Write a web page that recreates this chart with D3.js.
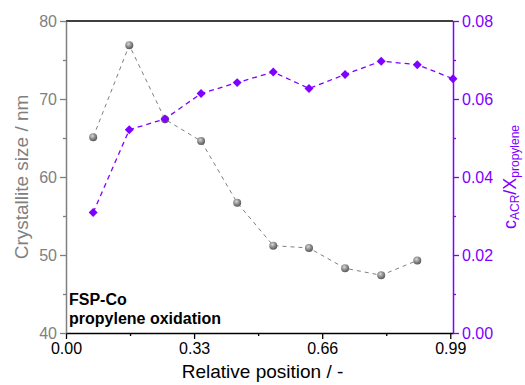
<!DOCTYPE html>
<html lang="en">
  <head>
    <meta charset="UTF-8" />
    <title>FSP-Co propylene oxidation</title>
    <script src="https://d3js.org/d3.v7.min.js"></script>
    <style>
      body { margin: 0; background: #fff; }
      svg { font-family: 'Liberation Sans', Arial, sans-serif; }
    </style>
  </head>

  <body>
    <div id="graph"></div>
    <script>
      // data
      const sizePos = [0.07, 0.163, 0.255, 0.348, 0.441, 0.534, 0.626, 0.719, 0.812, 0.905]
      const sizeVal = [65.1, 76.9, 67.4, 64.6, 56.7, 51.2, 50.9, 48.3, 47.4, 49.3]
      const ratioPos = [0.07, 0.163, 0.255, 0.348, 0.441, 0.534, 0.626, 0.719, 0.812, 0.905, 0.997]
      const ratioVal = [0.0309, 0.0521, 0.0549, 0.0614, 0.0642, 0.0669, 0.0627, 0.0663, 0.0697, 0.0688, 0.0652]
      const xTicks = [0, 0.33, 0.66, 0.99]
      const yTicks = [40, 50, 60, 70, 80]
      const y2Ticks = [0, 0.02, 0.04, 0.06, 0.08]

      const gray = '#808080'
      const purple = '#8000ff'
      const W = 525, H = 385
      const m = { left: 66, right: 72, top: 21, bottom: 52 }
      const iw = W - m.left - m.right
      const ih = H - m.top - m.bottom

      const svg = d3.select('#graph').append('svg').attr('width', W).attr('height', H)
      const g = svg.append('g').attr('transform', `translate(${m.left},${m.top})`)

      const x = d3.scaleLinear().domain([0, 0.997]).range([0, iw])
      const y = d3.scaleLinear().domain([40, 80]).range([ih, 0])
      const y2 = d3.scaleLinear().domain([0, 0.08]).range([ih, 0])

      // sphere gradient for gray markers
      const defs = svg.append('defs')
      const grad = defs.append('radialGradient').attr('id', 'ball').attr('cx', '40%').attr('cy', '35%').attr('r', '65%')
      grad.append('stop').attr('offset', '0%').attr('stop-color', '#d8d8d8')
      grad.append('stop').attr('offset', '55%').attr('stop-color', '#8a8a8a')
      grad.append('stop').attr('offset', '100%').attr('stop-color', '#5a5a5a')

      // frame: top border
      g.append('line').attr('x1', 0).attr('x2', iw).attr('y1', 0).attr('y2', 0).attr('stroke', '#000').attr('stroke-width', 1.3)

      // series lines
      const sizeData = sizePos.map((p, i) => [p, sizeVal[i]])
      const ratioData = ratioPos.map((p, i) => [p, ratioVal[i]])

      g.append('path')
        .datum(sizeData)
        .attr('fill', 'none')
        .attr('stroke', gray)
        .attr('stroke-width', 1)
        .attr('stroke-dasharray', '4,4')
        .attr('d', d3.line().x((d) => x(d[0])).y((d) => y(d[1])))

      g.append('path')
        .datum(ratioData)
        .attr('fill', 'none')
        .attr('stroke', purple)
        .attr('stroke-width', 1.3)
        .attr('stroke-dasharray', '5,4')
        .attr('d', d3.line().x((d) => x(d[0])).y((d) => y2(d[1])))

      g.selectAll('circle.size')
        .data(sizeData)
        .join('circle')
        .attr('class', 'size')
        .attr('cx', (d) => x(d[0]))
        .attr('cy', (d) => y(d[1]))
        .attr('r', 4)
        .attr('fill', 'url(#ball)')

      // diamonds = squares turned 45deg
      g.selectAll('path.ratio')
        .data(ratioData)
        .join('path')
        .attr('class', 'ratio')
        .attr('d', d3.symbol().type(d3.symbolSquare).size(40))
        .attr('transform', (d) => `translate(${x(d[0])},${y2(d[1])}) rotate(45)`)
        .attr('fill', purple)

      // axes
      const styleAxis = (sel, color) => {
        sel.selectAll('path').attr('stroke', color).attr('stroke-width', 1.5)
        sel.selectAll('line').attr('stroke', color).attr('stroke-width', 1.3)
        sel.selectAll('text').attr('fill', color).attr('font-size', 16).attr('font-family', "'Liberation Sans', Arial, sans-serif")
      }

      const xAx = g.append('g').attr('transform', `translate(0,${ih})`)
        .call(d3.axisBottom(x).tickValues(xTicks).tickFormat(d3.format('.2f')).tickSize(6).tickSizeOuter(0).tickPadding(4))
      styleAxis(xAx, '#000')
      g.append('g').attr('transform', `translate(0,${ih})`)
        .call(d3.axisBottom(x).tickValues([0.165, 0.495, 0.825]).tickFormat('').tickSize(3).tickSizeOuter(0))
        .call((s) => s.select('.domain').remove())
        .selectAll('line').attr('stroke', '#000').attr('stroke-width', 1.3)

      const yAx = g.append('g')
        .call(d3.axisLeft(y).tickValues(yTicks).tickSize(6).tickSizeOuter(0).tickPadding(3))
      styleAxis(yAx, gray)
      g.append('g')
        .call(d3.axisLeft(y).tickValues([45, 55, 65, 75]).tickFormat('').tickSize(3).tickSizeOuter(0))
        .call((s) => s.select('.domain').remove())
        .selectAll('line').attr('stroke', gray).attr('stroke-width', 1.3)

      const y2Ax = g.append('g').attr('transform', `translate(${iw},0)`)
        .call(d3.axisRight(y2).tickValues(y2Ticks).tickFormat(d3.format('.2f')).tickSize(6).tickSizeOuter(0).tickPadding(3))
      styleAxis(y2Ax, purple)
      g.append('g').attr('transform', `translate(${iw},0)`)
        .call(d3.axisRight(y2).tickValues([0.01, 0.03, 0.05, 0.07]).tickFormat('').tickSize(3).tickSizeOuter(0))
        .call((s) => s.select('.domain').remove())
        .selectAll('line').attr('stroke', purple).attr('stroke-width', 1.3)

      // axis titles
      svg.append('text')
        .attr('x', m.left + iw / 2 + 3)
        .attr('y', 378)
        .attr('text-anchor', 'middle')
        .attr('font-size', 19)
        .attr('fill', '#000')
        .text('Relative position / -')

      svg.append('text')
        .attr('transform', `translate(28,${m.top + ih / 2}) rotate(-90)`)
        .attr('text-anchor', 'middle')
        .attr('font-size', 19)
        .attr('fill', gray)
        .text('Crystallite size / nm')

      const t2 = svg.append('text')
        .attr('transform', `translate(516,${m.top + ih / 2}) rotate(-90)`)
        .attr('text-anchor', 'middle')
        .attr('font-size', 18)
        .attr('fill', purple)
      t2.append('tspan').text('c')
      t2.append('tspan').attr('font-size', 12).attr('dy', 3).text('ACR')
      t2.append('tspan').attr('dy', -3).text('/X')
      t2.append('tspan').attr('font-size', 12).attr('dy', 3).text('propylene')

      // annotation
      g.append('text').attr('x', 3).attr('y', ih - 28).attr('font-size', 16).attr('font-weight', 'bold').text('FSP-Co')
      g.append('text').attr('x', 3).attr('y', ih - 9).attr('font-size', 16).attr('font-weight', 'bold').text('propylene oxidation')
    </script>
  </body>
</html>
